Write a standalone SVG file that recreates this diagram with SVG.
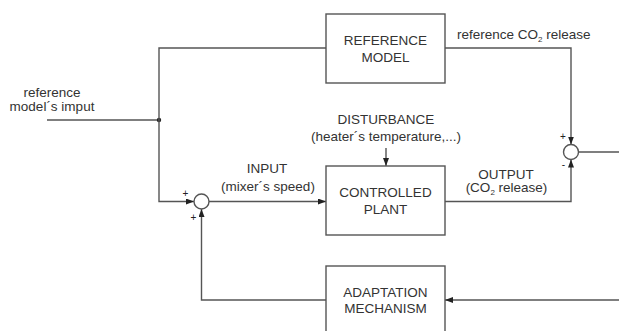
<svg xmlns="http://www.w3.org/2000/svg" width="619" height="331" viewBox="0 0 619 331">
  <defs>
    <marker id="arrow" viewBox="0 0 8 6" refX="8" refY="3" markerWidth="8" markerHeight="6" markerUnits="userSpaceOnUse" orient="auto">
      <path d="M0,0 L8,3 L0,6 z" fill="#222"/>
    </marker>
    <style>
      .box { fill: #fff; stroke: #555; stroke-width: 1.4; }
      .line { fill: none; stroke: #555; stroke-width: 1.4; }
      .sum { fill: #fff; stroke: #555; stroke-width: 1.4; }
      text { font-family: "Liberation Sans", Arial, sans-serif; fill: #333; font-size: 13.5px; }
      .c { text-anchor: middle; }
      .sign { font-size: 10px; fill: #222; }
      .sub { font-size: 8px; }
    </style>
  </defs>
  <rect width="619" height="331" fill="#fff"/>

  <!-- connectors -->
  <g id="connectors">
    <!-- external input to branch point -->
    <path class="line" d="M47,120 H159"/>
    <circle cx="159" cy="120" r="2.2" fill="#222"/>
    <!-- branch to reference model -->
    <path class="line" d="M159,120 V48 H326"/>
    <!-- branch to first summing junction -->
    <path class="line" d="M159,120 V201.5 H194" marker-end="url(#arrow)"/>
    <!-- summing junction to controlled plant -->
    <path class="line" d="M209,201.5 H326" marker-end="url(#arrow)"/>
    <!-- disturbance -->
    <path class="line" d="M386,148 V166" marker-end="url(#arrow)"/>
    <!-- reference model output to error junction -->
    <path class="line" d="M445,48 H571 V144.5" marker-end="url(#arrow)"/>
    <!-- plant output to error junction -->
    <path class="line" d="M445,201.5 H571 V159.5" marker-end="url(#arrow)"/>
    <!-- error signal out -->
    <path class="line" d="M578.5,152 H619"/>
    <!-- error feedback into adaptation mechanism -->
    <path class="line" d="M619,300 H445" marker-end="url(#arrow)"/>
    <!-- adaptation output to first summing junction -->
    <path class="line" d="M326,300 H201.5 V209" marker-end="url(#arrow)"/>
  </g>

  <!-- external input label -->
  <g id="label-input">
    <text class="c" x="52" y="96.5">reference</text>
    <text class="c" x="52" y="111">model´s imput</text>
  </g>

  <g id="reference-model">
    <rect class="box" x="326" y="14" width="119" height="69"/>
    <text class="c" x="385.5" y="45">REFERENCE</text>
    <text class="c" x="385.5" y="62">MODEL</text>
  </g>

  <g id="controlled-plant">
    <rect class="box" x="326" y="166" width="119" height="69"/>
    <text class="c" x="385.5" y="197">CONTROLLED</text>
    <text class="c" x="385.5" y="214">PLANT</text>
  </g>

  <g id="adaptation-mechanism">
    <rect class="box" x="326" y="266" width="119" height="80"/>
    <text class="c" x="385.5" y="297">ADAPTATION</text>
    <text class="c" x="385.5" y="312.5">MECHANISM</text>
  </g>

  <g id="sum-input">
    <circle class="sum" cx="201.5" cy="201.5" r="7.5"/>
    <text class="sign c" x="185.5" y="197">+</text>
    <text class="sign c" x="193.5" y="221">+</text>
  </g>

  <g id="sum-error">
    <circle class="sum" cx="571" cy="152" r="7.5"/>
    <text class="sign c" x="563" y="140">+</text>
    <text class="sign c" x="563.5" y="168">-</text>
  </g>

  <g id="labels">
    <text x="457" y="39">reference CO<tspan class="sub" dy="3">2</tspan><tspan dy="-3"> release</tspan></text>
    <text class="c" x="386" y="124">DISTURBANCE</text>
    <text class="c" x="386" y="141">(heater´s temperature,...)</text>
    <text class="c" x="267" y="173">INPUT</text>
    <text class="c" x="268" y="191">(mixer´s speed)</text>
    <text class="c" x="506" y="179">OUTPUT</text>
    <text class="c" x="506.5" y="192">(CO<tspan class="sub" dy="3">2</tspan><tspan dy="-3"> release)</tspan></text>
  </g>
</svg>
